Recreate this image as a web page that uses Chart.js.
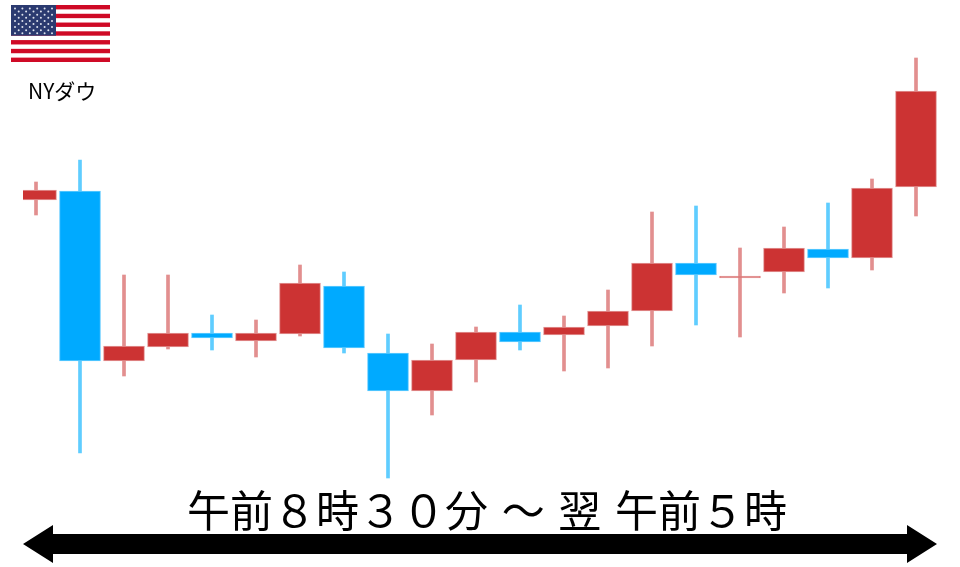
<!DOCTYPE html>
<html lang="ja">
<head>
<meta charset="utf-8">
<title>NYダウ</title>
<script src="https://cdn.jsdelivr.net/npm/chart.js@4/dist/chart.umd.min.js"></script>
<style>
  html, body { margin: 0; padding: 0; background: #fff; }
  #wrap { position: relative; width: 960px; height: 567px; overflow: hidden; }
  #chart { position: absolute; left: 0; top: 0; }
  .label { position: absolute; white-space: pre; color: #000; font-family: "Noto Sans CJK JP", "Noto Sans", sans-serif; }
  #marketName { left: 28px; top: 74px; font-size: 21px; line-height: 32px; }
  #sessionLabel { left: 187px; top: 477px; font-size: 43px; line-height: 62px; word-spacing: 4px; }
</style>
</head>
<body>
<div id="wrap">
  <canvas id="chart" width="960" height="567"></canvas>
  <div class="label" id="marketName">NYダウ</div>
  <div class="label" id="sessionLabel">午前８時３０分 ～ 翌 午前５時</div>
</div>
<script>
// candle values (no price axis is shown, so the units are notional)
const sessions = [0, 1, 2, 3, 4, 5, 6, 7, 8, 9, 10, 11, 12, 13, 14, 15, 16, 17, 18, 19, 20];
const opens  = [367, 376, 206, 220, 234, 226, 233, 281, 214, 176, 207, 235, 232, 241, 256, 304, 289, 295, 318, 309, 380];
const closes = [377, 206, 221, 234, 229, 234, 284, 219, 176, 207, 235, 225, 240, 256, 304, 292, 291, 319, 309, 379, 476];
const highs  = [385, 407, 292, 292, 252, 247, 302, 295, 233, 223, 240, 262, 251, 277, 355, 361, 319, 340, 364, 388, 509];
const lows   = [352, 114, 191, 218, 217, 210, 231, 214,  89, 152, 185, 217, 196, 199, 221, 242, 230, 274, 279, 297, 351];

const upColor = '#cc3333';
const downColor = '#00aaff';
const upWick = '#e28f8f';
const downWick = '#5fcdff';

const isUp = i => closes[i] >= opens[i];

// flag and the long arrow under the chart are decoration, not data
const decorations = {
  id: 'decorations',
  afterDraw(chart) {
    const ctx = chart.ctx;
    ctx.save();

    // flag
    const fx = 11, fy = 5, fw = 99, fh = 57;
    ctx.fillStyle = '#fff';
    ctx.fillRect(fx, fy, fw, fh);
    ctx.fillStyle = '#cf0a26';
    for (let s = 0; s < 13; s += 2) {
      ctx.fillRect(fx, fy + s * fh / 13, fw, fh / 13);
    }
    ctx.fillStyle = '#2b3a70';
    ctx.fillRect(fx, fy, 45, fh * 7 / 13);
    ctx.fillStyle = '#dfe3ee';
    for (let r = 0; r < 9; r++) {
      const n = r % 2 ? 5 : 6;
      for (let c = 0; c < n; c++) {
        const sx = fx + 4 + c * 7.4 + (r % 2 ? 3.7 : 0);
        ctx.beginPath();
        ctx.arc(sx, fy + 3.5 + r * 3.1, 1, 0, Math.PI * 2);
        ctx.fill();
      }
    }

    // double headed arrow
    ctx.fillStyle = '#000';
    ctx.beginPath();
    ctx.moveTo(23, 544);
    ctx.lineTo(53, 525);
    ctx.lineTo(53, 534);
    ctx.lineTo(907, 534);
    ctx.lineTo(907, 525);
    ctx.lineTo(937, 544);
    ctx.lineTo(907, 563);
    ctx.lineTo(907, 554);
    ctx.lineTo(53, 554);
    ctx.lineTo(53, 563);
    ctx.closePath();
    ctx.fill();

    ctx.restore();
  }
};

new Chart(document.getElementById('chart'), {
  type: 'bar',
  data: {
    datasets: [
      {
        label: '実体',
        data: sessions.map(i => ({ x: i, y: [opens[i], closes[i]] })),
        backgroundColor: sessions.map(i => isUp(i) ? upColor : downColor),
        borderColor: sessions.map(i => isUp(i) ? '#e39a9a' : '#66ccff'),
        borderWidth: 1,
        borderSkipped: false,
        barThickness: 41,
        grouped: false,
        order: 1
      },
      {
        label: 'ヒゲ',
        data: sessions.map(i => ({ x: i, y: [lows[i], highs[i]] })),
        backgroundColor: sessions.map(i => isUp(i) ? upWick : downWick),
        borderWidth: 0,
        barThickness: 3,
        grouped: false,
        order: 2
      }
    ]
  },
  options: {
    responsive: false,
    animation: false,
    layout: { padding: { left: 23, right: 0, top: 0, bottom: 0 } },
    plugins: { legend: { display: false }, tooltip: { enabled: false } },
    scales: {
      x: { type: 'linear', display: false, offset: false, min: -0.2955, max: 21 },
      y: { display: false, min: 0, max: 567 }
    }
  },
  plugins: [decorations]
});
</script>
</body>
</html>
